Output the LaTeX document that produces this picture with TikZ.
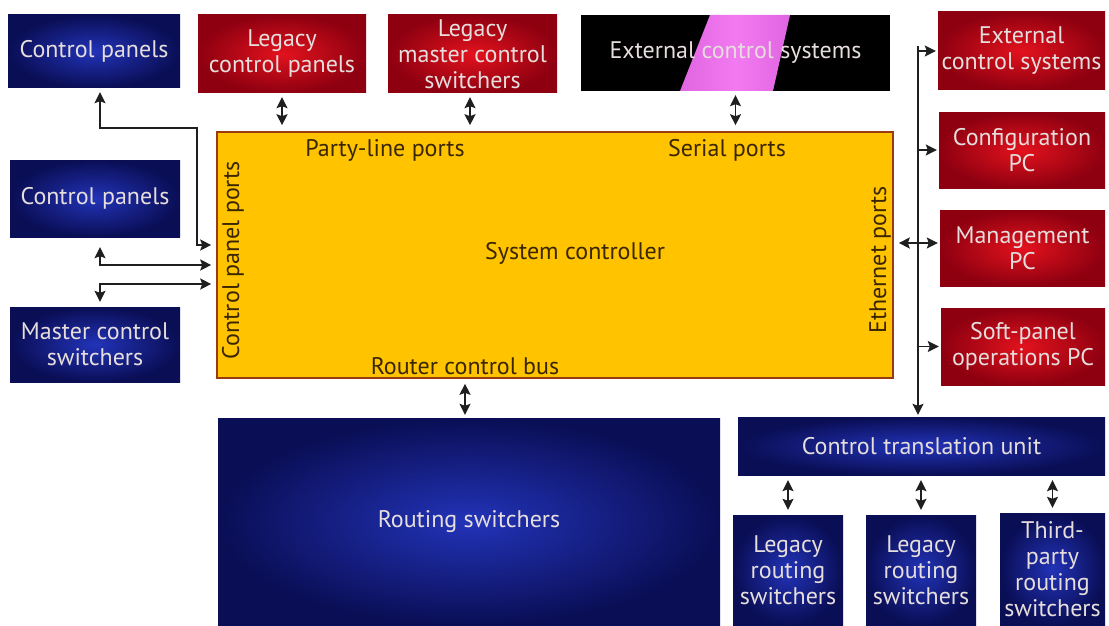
\documentclass[tikz,border=0pt]{standalone}
\usepackage{fontspec}
\setmainfont{PT Sans}
\usetikzlibrary{positioning,calc,arrows.meta}
\definecolor{navy}{HTML}{0A0E55}
\definecolor{navylight}{HTML}{2233B8}
\definecolor{darkred}{HTML}{8E0010}
\definecolor{lightred}{HTML}{E3121E}
\definecolor{boxtext}{HTML}{E6DEDC}
\definecolor{gold}{HTML}{FFC300}
\definecolor{goldline}{HTML}{9A3A10}
\definecolor{inktext}{HTML}{3A2600}
\definecolor{streak}{HTML}{C040C8}
\definecolor{streaklight}{HTML}{F27AF0}
\tikzset{bluebox/.style={shading=radial,inner color=navylight,outer color=navy,text=boxtext,align=center,inner sep=0pt,font=\fontsize{24}{26}\selectfont},
         redbox/.style={shading=radial,inner color=lightred,outer color=darkred,text=boxtext,align=center,inner sep=0pt,font=\fontsize{24}{26}\selectfont},
         port/.style={text=inktext,font=\fontsize{24}{26}\selectfont,inner sep=0pt},
         link/.style={line width=1.5pt,draw=black!88,{Stealth[length=11pt,width=11pt,inset=2pt]}-{Stealth[length=11pt,width=11pt,inset=2pt]}},
         onelink/.style={line width=1.5pt,draw=black!88,-{Stealth[length=11pt,width=11pt,inset=2pt]}}
}
\begin{document}
\begin{tikzpicture}[x=1pt,y=1pt,yscale=-1,xscale=1]
\useasboundingbox (0,0) rectangle (1109,626);

%System controller
\node (sys) [fill=gold,draw=goldline,line width=1.6pt,minimum width=676,minimum height=246,inner sep=0pt] at (555,255) {};
\node (party) [port] at (385,150) {Party-line ports};
\node (serial) [port] at (727,150) {Serial ports};
\node (ctrl) [port] at (575,253) {System controller};
\node (bus) [port] at (465,366) {Router control bus};
\node (cpports) [port,rotate=90] at (233,260) {Control panel ports};
\node (ethports) [port,rotate=90] at (880,260) {Ethernet ports};

%Left column
\node (cp1) [bluebox,minimum width=172,minimum height=73] at (94,51.5) {Control panels};
\node (cp2) [bluebox,minimum width=170,minimum height=77] at (95,198.5) {Control panels};
\node (mcs) [bluebox,minimum width=170,minimum height=75] at (95,344.5) {Master control\\switchers};

%Top row
\node (lcp) [redbox,minimum width=168,minimum height=78] at (282,54) {Legacy\\control panels};
\node (lmcs) [redbox,minimum width=169,minimum height=78] at (472.5,54) {Legacy\\master control\\switchers};
\node (ecs1) [fill=black,text=boxtext,inner sep=0pt,minimum width=309,minimum height=76,font=\fontsize{24}{26}\selectfont,
  path picture={\shade[left color=streak,right color=streak,middle color=streaklight]
    ($(path picture bounding box.north west)+(129,0)$) -- ($(path picture bounding box.north west)+(209,0)$)
    -- ($(path picture bounding box.south west)+(192,0)$) -- ($(path picture bounding box.south west)+(99,0)$) -- cycle;}]
  at (735.5,53) {External control systems};

%Right column
\node (ecs2) [redbox,minimum width=167,minimum height=78] at (1021.5,51) {External\\control systems};
\node (cfg) [redbox,minimum width=166,minimum height=76] at (1022,150) {Configuration\\PC};
\node (mgt) [redbox,minimum width=165,minimum height=76] at (1022.5,248) {Management\\PC};
\node (spo) [redbox,minimum width=164,minimum height=77] at (1023,346.5) {Soft-panel\\operations PC};

%Bottom
\node (rs) [bluebox,minimum width=502,minimum height=207] at (469,521.5) {Routing switchers};
\node (ctu) [bluebox,minimum width=367,minimum height=58] at (921.5,446) {Control translation unit};
\node (lrs1) [bluebox,minimum width=110,minimum height=110] at (788,570) {Legacy\\routing\\switchers};
\node (lrs2) [bluebox,minimum width=110,minimum height=110] at (921,570) {Legacy\\routing\\switchers};
\node (tprs) [bluebox,minimum width=105,minimum height=112] at (1052.5,569) {Third-\\party\\routing\\switchers};

%Left links
\draw [link,shorten <=4pt,shorten >=5pt] (cp1.south -| 100,0) |- (197,128) |- (sys.west |- 0,245);
\draw [link,shorten <=10pt,shorten >=5pt] (cp2.south -| 100,0) |- (sys.west |- 0,265);
\draw [link,shorten <=5pt,shorten >=5pt] (mcs.north -| 100,0) |- (sys.west |- 0,284);

%Top links
\draw [link,shorten <=4pt,shorten >=6pt] (lcp.south) -- (lcp.south |- sys.north);
\draw [link,shorten <=4pt,shorten >=6pt] (lmcs.south -| 470,0) -- (sys.north -| 470,0);
\draw [link,shorten <=4pt,shorten >=6pt] (ecs1.south) -- (ecs1.south |- sys.north);
\draw [link,shorten <=5pt,shorten >=3pt] (sys.south -| 465,0) -- (rs.north -| 465,0);

%Ethernet bus
\coordinate (ebus) at (918,0);
\draw [onelink,shorten >=2pt] (ebus |- 0,46) -- (ctu.north -| ebus);
\draw [onelink,shorten >=2pt] (ebus |- ecs2.west) -- (ecs2.west);
\draw [onelink,shorten >=2pt] (ebus |- cfg.west) -- (cfg.west);
\draw [onelink,shorten >=2pt] (ebus |- spo.west) -- (spo.west);
\draw [link,shorten <=5pt,shorten >=2pt] (sys.east |- 0,243) -- (mgt.west |- 0,243);

%Translation links
\draw [link,shorten <=5pt,shorten >=5pt] (ctu.south -| lrs1.north) -- (lrs1.north);
\draw [link,shorten <=5pt,shorten >=5pt] (ctu.south -| lrs2.north) -- (lrs2.north);
\draw [link,shorten <=5pt,shorten >=5pt] (ctu.south -| tprs.north) -- (tprs.north);

\end{tikzpicture}
\end{document}
